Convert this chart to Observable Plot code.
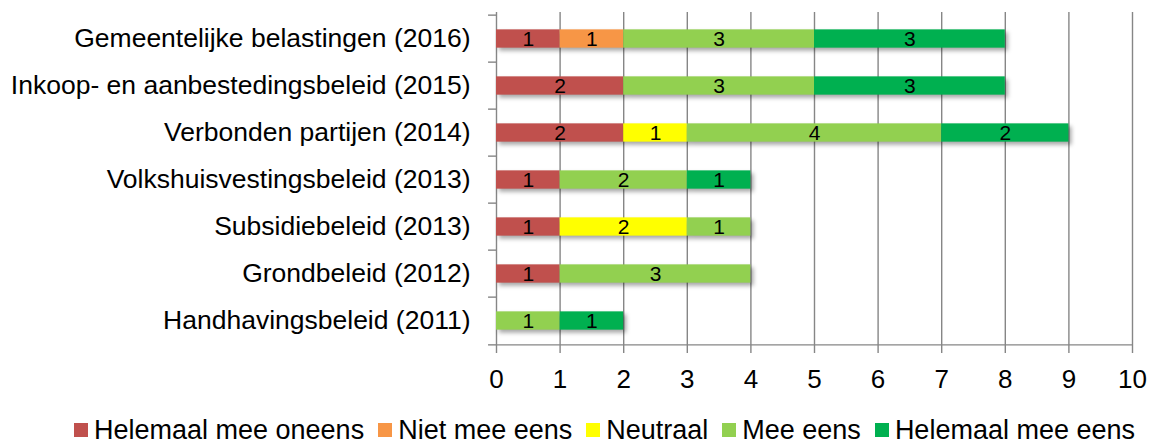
<!DOCTYPE html>
<html>
<head>
<meta charset="utf-8">
<script src="https://cdn.jsdelivr.net/npm/d3@7"></script>
<script src="https://cdn.jsdelivr.net/npm/@observablehq/plot@0.6"></script>
<style>
  html, body { margin: 0; padding: 0; background: #fff; }
  body { width: 1157px; height: 443px; overflow: hidden; font-family: "Liberation Sans", Arial, sans-serif; }
  #chart svg { display: block; }
  #chart g[aria-label="bar"] { filter: drop-shadow(3px 3px 2px rgba(0,0,0,0.35)); }
  #legend { display: flex; justify-content: center; align-items: center; margin-top: 15px; margin-left: 52px; font-size: 27px; line-height: 30px; color: #000; white-space: nowrap; }
  #legend .item { display: flex; align-items: center; margin-right: 14px; }
  #legend .item:last-child { margin-right: 0; }
  #legend .sw { width: 14px; height: 14px; margin-right: 6px; }
</style>
</head>
<body>
<div id="chart"></div>
<div id="legend"></div>
<script>
const categories = [
  "Gemeentelijke belastingen (2016)",
  "Inkoop- en aanbestedingsbeleid (2015)",
  "Verbonden partijen (2014)",
  "Volkshuisvestingsbeleid (2013)",
  "Subsidiebeleid (2013)",
  "Grondbeleid (2012)",
  "Handhavingsbeleid (2011)"
];
const series = ["Helemaal mee oneens", "Niet mee eens", "Neutraal", "Mee eens", "Helemaal mee eens"];
const colors = ["#C0504D", "#F79646", "#FFFF00", "#92D050", "#00B050"];
const helemaalMeeOneens = [1, 2, 2, 1, 1, 1, 0];
const nietMeeEens       = [1, 0, 0, 0, 0, 0, 0];
const neutraal          = [0, 0, 1, 0, 2, 0, 0];
const meeEens           = [3, 3, 4, 2, 1, 3, 1];
const helemaalMeeEens   = [3, 3, 2, 1, 0, 0, 1];
const xTicks = [0, 1, 2, 3, 4, 5, 6, 7, 8, 9, 10];

const seriesValues = [helemaalMeeOneens, nietMeeEens, neutraal, meeEens, helemaalMeeEens];
const table = [];
series.forEach((s, si) => {
  categories.forEach((c, ci) => {
    const v = seriesValues[si][ci];
    if (v > 0) table.push({category: c, series: s, value: v});
  });
});

const W = 1157, H = 400, mTop = 12, mBottom = 54, mLeft = 496, mRight = 25;
const step = (H - mTop - mBottom) / categories.length;
const barH = 19;
const inset = (step - barH) / 2;
const grid = "#868686";

const chart = Plot.plot({
  width: W,
  height: H,
  marginTop: mTop,
  marginBottom: mBottom,
  marginLeft: mLeft,
  marginRight: mRight,
  style: {fontFamily: '"Liberation Sans", Arial, sans-serif', color: "#000", background: "#fff"},
  x: {domain: [0, 10], label: null},
  y: {domain: categories, padding: 0, label: null},
  color: {domain: series, range: colors},
  marks: [
    Plot.ruleX(xTicks, {stroke: grid, strokeWidth: 1.4}),
    Plot.ruleY([categories[categories.length - 1]], {x1: 0, x2: 10, dy: step / 2, stroke: grid, strokeWidth: 1.4}),
    Plot.ruleY(categories, {x1: -0.125, x2: 0, dy: -step / 2, stroke: grid, strokeWidth: 1.4}),
    Plot.ruleY([categories[categories.length - 1]], {x1: -0.125, x2: 0, dy: step / 2, stroke: grid, strokeWidth: 1.4}),
    Plot.barX(table, Plot.stackX({x: "value", y: "category", fill: "series", insetTop: inset, insetBottom: inset})),
    Plot.textX(table, Plot.stackX({x: "value", y: "category", text: "value", fill: "#000", fontSize: 21})),
    Plot.axisX(xTicks, {tickSize: 7, tickPadding: 16, fontSize: 26, stroke: grid, strokeWidth: 1.4, fill: "#000", label: null}),
    Plot.axisY({tickSize: 0, tickPadding: 26, fontSize: 26.5, fill: "#000", label: null})
  ]
});
document.getElementById("chart").appendChild(chart);

const legend = document.getElementById("legend");
series.forEach((s, i) => {
  const item = document.createElement("div");
  item.className = "item";
  const sw = document.createElement("div");
  sw.className = "sw";
  sw.style.background = colors[i];
  const t = document.createElement("span");
  t.textContent = s;
  item.appendChild(sw);
  item.appendChild(t);
  legend.appendChild(item);
});
</script>
</body>
</html>
